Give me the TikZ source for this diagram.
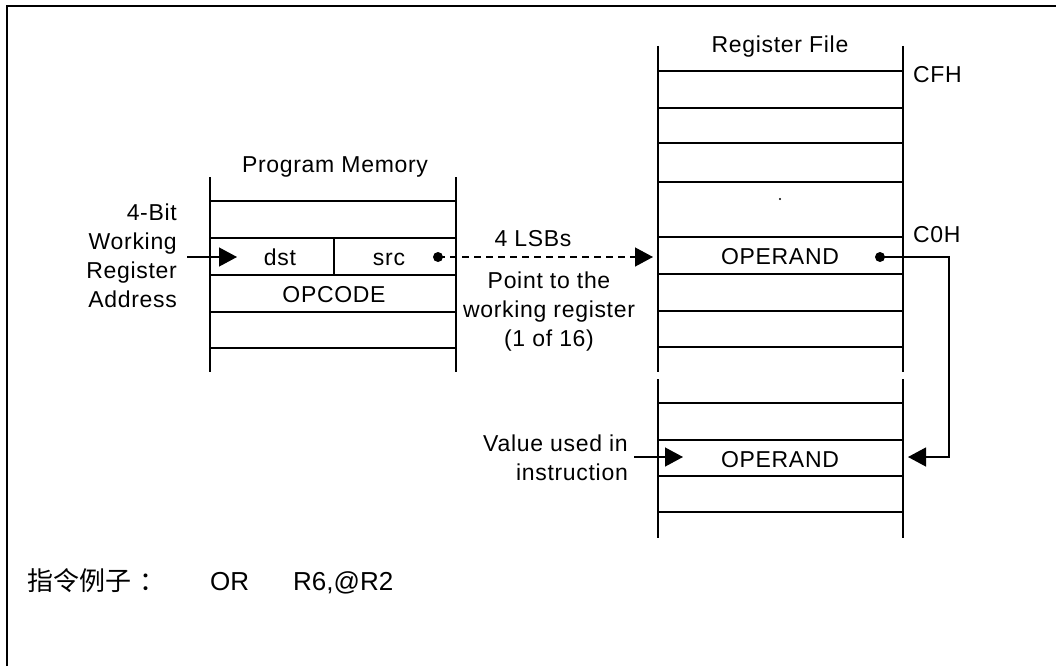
\documentclass[tikz,border=0pt]{standalone}
\usepackage{fontspec}
\setmainfont{Liberation Sans}[LetterSpace=3]
\newfontfamily\plainfont{Liberation Sans}
\newfontfamily\cjk{Noto Sans CJK SC}
\usetikzlibrary{arrows.meta}
\tikzset{
  wall/.style={line width=1.6pt},
  rowline/.style={line width=1.4pt},
  lbl/.style={inner sep=0pt, anchor=base},
  conn/.style={line width=1.3pt, -{Triangle[length=18pt,width=19pt]}},
  dotmark/.style={fill=black},
}
\begin{document}
\begin{tikzpicture}[x=1pt,y=-1pt,font=\fontsize{23}{29}\selectfont]
\useasboundingbox (0,0) rectangle (1056,666);
% outer frame
\draw[line width=2pt] (7,666) -- (7,6) -- (1056,6);

% Program memory
\draw[wall] (210,177) -- (210,372);
\draw[wall] (456,177) -- (456,372);
\foreach \y in {201,238,275,312,348} \draw[rowline] (210,\y) -- (456,\y);
\draw[rowline] (334,238) -- (334,275);

% Register file
\draw[wall] (658,46) -- (658,372) (658,379) -- (658,538);
\draw[wall] (903,46) -- (903,372) (903,379) -- (903,538);
\foreach \y in {71,108,143,182,237,274,311,347,403,440,476,512} \draw[rowline] (658,\y) -- (903,\y);
\fill (780,199) circle (1.2pt);

% labels
\node[lbl] (pmt) at (335,172) {Program Memory};
\node[lbl] (rft) at (780,53) {Register File};
\node[lbl,anchor=base west] (cfh) at (913,83) {CFH};
\node[lbl,anchor=base west] (c0h) at (913,242) {C0H};
\node[lbl] (dst) at (280,265) {dst};
\node[lbl] (src) at (389,265) {src};
\node[lbl] (opc) at (334,302) {OPCODE};
\node[lbl] (op1) at (780,264) {OPERAND};
\node[lbl] (op2) at (780,467) {OPERAND};
\node[lbl] (lsb) at (533,246) {4 LSBs};
\node[lbl,align=center] (pt) at (549,346) {Point to the\\working register\\(1 of 16)};
\node[lbl,align=right,anchor=base east] (wra) at (177,307) {4-Bit\\Working\\Register\\Address};
\node[lbl,align=right,anchor=base east] (val) at (628,480) {Value used in\\instruction};

% connectors
\coordinate (wraOut) at (187,257);
\coordinate (dstIn) at (237,257);
\draw[conn] (wraOut) -- (dstIn);

\coordinate (srcDot) at (438,257);
\coordinate (op1In) at (653,257);
\draw[conn,dash pattern=on 7pt off 5pt] (srcDot) -- (op1In);
\fill[dotmark] (srcDot) circle (5pt);

\coordinate (op1Dot) at (880,257);
\coordinate (loopCorner) at (949,457);
\coordinate (op2In) at (908,457);
\draw[conn] (op1Dot) -| (loopCorner) -- (op2In);
\fill[dotmark] (op1Dot) circle (5pt);

\coordinate (valOut) at (634,457);
\coordinate (op2Tip) at (683,457);
\draw[conn] (valOut) -- (op2Tip);

% example instruction
\node[anchor=base west,inner sep=0pt,font=\cjk\fontsize{26}{30}\selectfont] (ex) at (27,590) {指令例子\kern8pt：};
\node[anchor=base west,inner sep=0pt,font=\plainfont\fontsize{26}{30}\selectfont] (exop) at (210,590) {OR};
\node[anchor=base west,inner sep=0pt,font=\plainfont\fontsize{26}{30}\selectfont] (exarg) at (293,590) {R6,@R2};
\end{tikzpicture}
\end{document}
